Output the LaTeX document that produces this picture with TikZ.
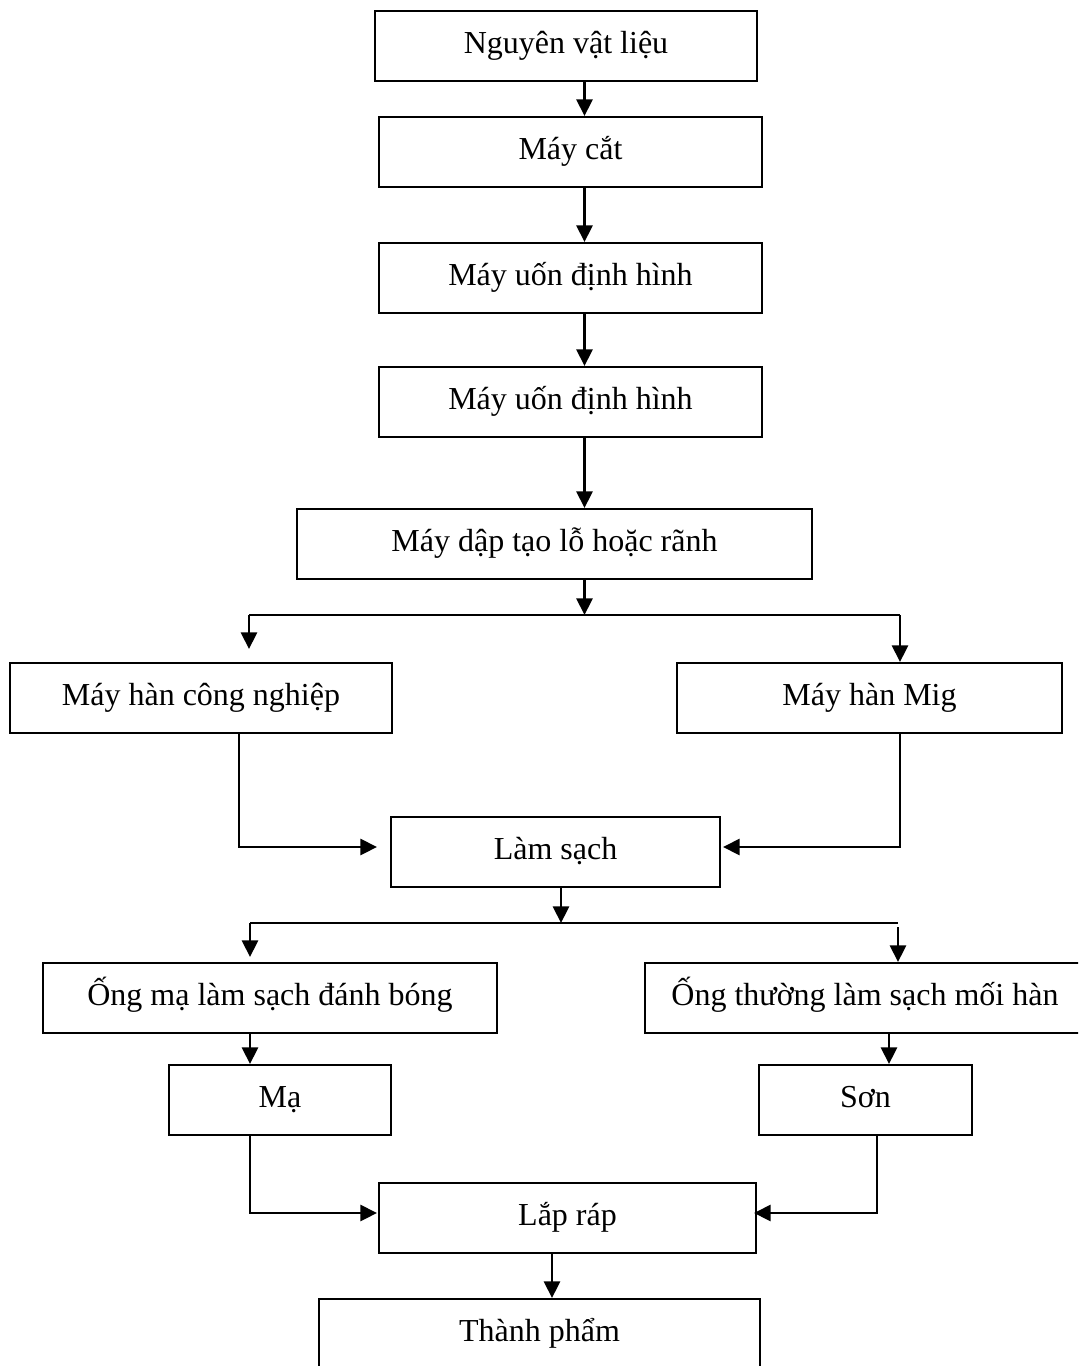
\documentclass[tikz,border=0pt]{standalone}
\usepackage{fontspec}
\setmainfont{Liberation Serif}
\usetikzlibrary{calc, arrows.meta}

\tikzset{
    procbox/.style={draw, line width=1.5pt, inner sep=0pt, minimum height=52.5pt,
        text height=17pt, text depth=6pt, font=\fontsize{24pt}{29pt}\selectfont},
    link/.style={line width=2.2pt},
    conn/.style={link, -{Triangle[length=12.5pt,width=12pt]}}
}

\begin{document}
\begin{tikzpicture}[x=0.75pt, y=-0.75pt]
    \clip (0,0) rectangle (1078,1366);

    % Process boxes: name/x/y/width/label
    \foreach \name/\x/\y/\w/\txt in {
        nvl/566/46/382/Nguyên vật liệu,
        cat/570.5/152/383/Máy cắt,
        uonA/570.5/278/383/Máy uốn định hình,
        uonB/570.5/402/383/Máy uốn định hình,
        dap/554.5/544/515/Máy dập tạo lỗ hoặc rãnh,
        hancn/201/698/382/Máy hàn công nghiệp,
        hanmig/869.5/698/385/Máy hàn Mig,
        lamsach/555.5/852/329/Làm sạch,
        ongma/270/998/454/Ống mạ làm sạch đánh bóng,
        ongthuong/865/998/440/Ống thường làm sạch mối hàn,
        ma/280/1100/222/Mạ,
        son/865.5/1100/213/Sơn,
        laprap/567.5/1218/377/Lắp ráp,
        thanhpham/539.5/1334/441/Thành phẩm}{
        \node[procbox, minimum width=\w*0.75pt] (\name) at (\x,\y) {\txt};
    }

    % Guide points for the connectors
    \coordinate (xc) at (584.5,0);
    \coordinate (xl) at (239,0);
    \coordinate (xr) at (900,0);
    \coordinate (xs) at (889,0);
    \coordinate (xt) at (877,0);
    \coordinate (xe) at (552,0);
    \coordinate (s1) at (584.5,615);
    \coordinate (s1l) at (249,615);
    \coordinate (s1r) at (900,615);
    \coordinate (s2) at (561,923);
    \coordinate (s2l) at (250,923);
    \coordinate (s2r) at (898,923);

    % Main chain
    \foreach \a/\b in {nvl/cat, cat/uonA, uonA/uonB, uonB/dap}{
        \draw[conn] (\a.south -| xc) -- (\b.north -| xc);
    }

    % First split to the two welders
    \draw[conn] (dap.south -| s1) -- (s1);
    \draw[link] (s1l) -- (s1r);
    \draw[conn] (s1l) -- ($(hancn.north -| s1l)+(0,-13)$);
    \draw[conn] (s1r) -- (hanmig.north -| s1r);

    % Welders into cleaning
    \draw[conn] (hancn.south -| xl) |- ($(lamsach.west)+(-13,-5)$);
    \draw[conn] (hanmig.south -| xr) |- ($(lamsach.east)+(2,-5)$);

    % Second split
    \draw[conn] (lamsach.south -| s2) -- (s2);
    \draw[link] (s2l) -- (s2r);
    \draw[conn] (s2l) -- ($(ongma.north -| s2l)+(0,-5)$);
    \draw[conn] ($(s2r)+(0,4)$) -- (ongthuong.north -| s2r);

    % Coating and painting
    \draw[conn] (ongma.south -| s2l) -- (ma.north -| s2l);
    \draw[conn] (ongthuong.south -| xs) -- (son.north -| xs);

    % Into assembly and the end product
    \draw[conn] (ma.south -| s2l) |- ($(laprap.west)+(-1,-5)$);
    \draw[conn] (son.south -| xt) |- ($(laprap.east)+(-3,-5)$);
    \draw[conn] (laprap.south -| xe) -- (thanhpham.north -| xe);
\end{tikzpicture}
\end{document}
